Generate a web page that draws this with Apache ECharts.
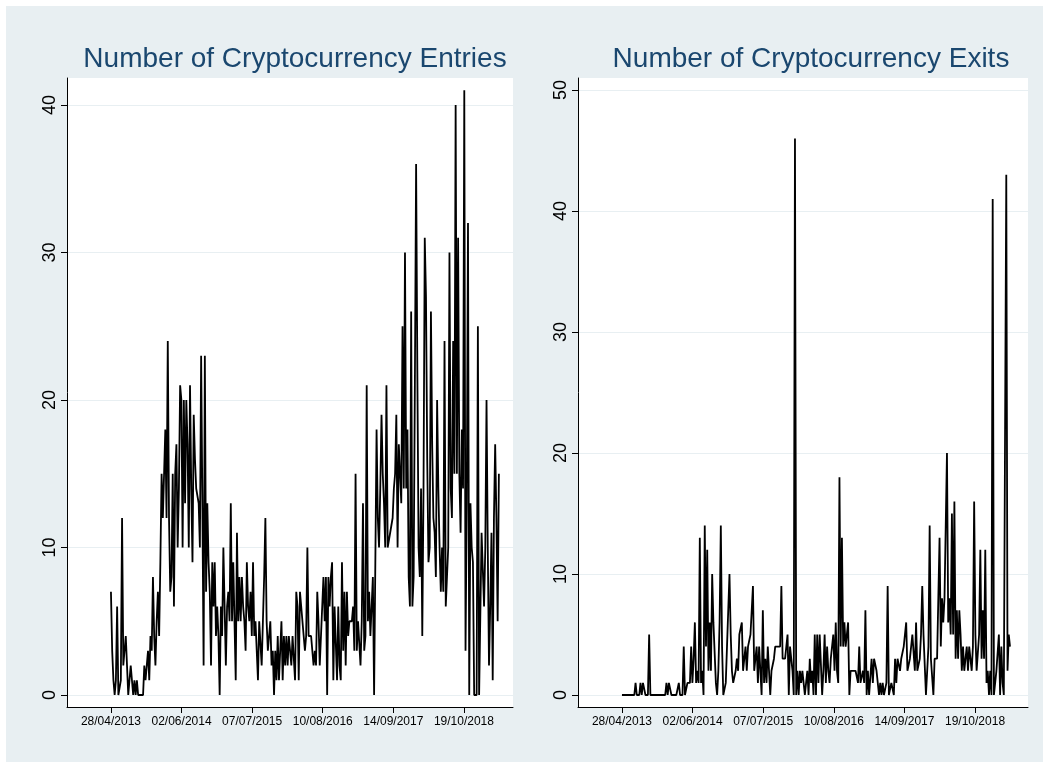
<!DOCTYPE html>
<html>
<head>
<meta charset="utf-8">
<script src="https://cdn.jsdelivr.net/npm/echarts@6/dist/echarts.min.js"></script>
<style>
  html, body { margin: 0; padding: 0; background: #ffffff; }
  #chart { width: 1049px; height: 768px; }
</style>
</head>
<body>
<div id="chart"></div>
<script>
// Weekly observations, first week starting 28/04/2013
const startDate = '2013-04-28';
const weekStep = 7; // days between observations

// Weekly number of cryptocurrency entries
const entries = [
  7,3,1,0,1,6,0,0,1,12,
  2,2,4,2,0,1,2,1,0,1,
  0,1,0,0,0,0,0,2,1,2,
  3,1,4,3,8,4,2,5,7,4,
  9,15,12,15,18,12,24,12,7,8,
  15,6,15,17,10,14,21,20,10,20,
  13,20,17,10,21,14,9,19,16,14,
  14,13,10,23,13,2,23,7,13,9,
  7,2,9,6,9,4,6,4,0,6,
  4,10,6,2,6,7,5,13,5,9,
  5,1,11,5,8,5,8,6,5,3,
  9,6,5,7,4,9,4,5,5,1,
  5,5,2,5,8,12,5,3,3,5,
  2,3,0,3,1,4,1,3,5,1,
  4,2,4,2,4,3,2,4,4,1,
  7,6,1,7,6,6,4,3,4,10,
  4,4,4,4,2,3,2,7,5,2,
  4,6,8,5,8,0,8,6,8,9,
  1,6,6,1,6,2,1,9,3,7,
  2,7,4,5,5,5,6,3,15,3,
  5,5,2,5,13,3,4,21,5,7,
  4,4,8,0,9,18,12,10,14,19,
  15,13,10,21,10,10,11,11,12,14,
  15,19,10,17,15,13,25,14,30,14,
  18,8,6,26,6,8,21,36,22,10,
  8,14,4,14,31,27,16,9,10,26,
  17,12,11,8,20,14,10,7,10,7,
  24,6,8,10,30,14,12,24,15,40,
  15,31,15,11,18,14,41,3,13,32,
  0,13,10,9,0,0,0,25,0,0,
  11,11,6,10,20,10,2,6,11,1,
  12,17,12,5,15
];

// Weekly number of cryptocurrency exits
const exits = [
  0,0,0,0,0,0,0,0,0,0,
  0,1,0,0,0,1,0,1,1,0,
  0,0,5,0,0,0,0,0,0,0,
  0,0,0,0,0,0,1,0,1,1,
  0,0,0,0,0,0,1,0,0,0,
  4,0,0,1,1,1,4,1,3,6,
  1,2,1,13,1,2,0,14,4,12,
  2,6,2,10,6,6,1,0,2,6,
  14,4,0,0,1,4,7,10,5,2,
  1,1,2,3,2,5,5,6,2,3,
  4,2,4,4,5,7,9,2,2,4,
  1,4,2,0,7,1,3,1,4,2,
  0,2,2,3,4,4,4,4,4,9,
  3,3,3,3,5,0,4,4,2,0,
  46,0,2,0,2,1,2,2,0,1,
  2,0,3,1,2,0,5,0,5,1,
  5,5,0,2,5,1,4,2,1,3,
  4,5,2,6,2,1,18,4,13,4,
  6,4,4,6,0,2,2,2,2,2,
  2,1,4,1,1,2,1,7,0,2,
  0,0,3,1,3,3,2,1,0,1,
  0,1,0,0,1,9,0,0,1,1,
  0,3,1,3,3,2,3,3,4,5,
  6,2,2,3,4,5,5,2,6,2,
  2,3,5,9,5,5,0,2,4,14,
  3,3,0,3,3,3,3,13,4,8,
  6,8,8,20,6,8,5,15,5,16,
  3,7,3,7,5,2,4,2,3,4,
  2,4,4,2,4,16,5,2,2,5,
  12,3,7,3,12,1,2,0,2,0,
  41,0,0,2,2,5,0,4,1,0,
  0,43,2,5,4
];

// Date tick labels along the time axis
const dateTicks = ['28/04/2013', '02/06/2014', '07/07/2015', '10/08/2016', '14/09/2017', '19/10/2018'];
const entriesTicks = [0, 10, 20, 30, 40];
const exitsTicks = [0, 10, 20, 30, 40, 50];

const titles = ['Number of Cryptocurrency Entries', 'Number of Cryptocurrency Exits'];

// ---- helpers: day offsets relative to the first observation ----
const DAY = 86400000;
const t0 = Date.parse(startDate + 'T00:00:00Z');
function parseDMY(s) {
  const [d, m, y] = s.split('/').map(Number);
  return Date.UTC(y, m - 1, d);
}
function fmtDMY(dayOffset) {
  const dt = new Date(t0 + Math.round(dayOffset) * DAY);
  const p = n => String(n).padStart(2, '0');
  return p(dt.getUTCDate()) + '/' + p(dt.getUTCMonth() + 1) + '/' + dt.getUTCFullYear();
}
const tickDays = dateTicks.map(s => Math.round((parseDMY(s) - t0) / DAY));
const toPairs = arr => arr.map((v, i) => [i * weekStep, v]);

const navy = '#1a476f';
const gridColor = '#e8eff2';
const bgColor = '#e8eff2';
const font = '"Liberation Sans", Arial, sans-serif';

function xAxis(gridIndex, max) {
  return {
    type: 'value', gridIndex,
    min: -249, max,
    axisLine: { show: true, onZero: false, lineStyle: { color: '#000', width: 1 } },
    axisTick: { show: true, length: 6, customValues: tickDays, lineStyle: { color: '#000' } },
    axisLabel: {
      customValues: tickDays, formatter: v => fmtDMY(v),
      color: '#000', fontSize: 12, fontFamily: font, margin: 9
    },
    splitLine: { show: false }
  };
}
function yAxis(gridIndex, min, max, ticks) {
  return {
    type: 'value', gridIndex, min, max,
    axisLine: { show: true, onZero: false, lineStyle: { color: '#000', width: 1 } },
    axisTick: { show: true, length: 6, customValues: ticks, lineStyle: { color: '#000' } },
    axisLabel: {
      customValues: ticks, rotate: 90, color: '#000', fontSize: 18, fontFamily: font, margin: 8
    },
    splitLine: { show: true, lineStyle: { color: gridColor, width: 1 } }
  };
}

const chart = echarts.init(document.getElementById('chart'), null, { renderer: 'canvas' });
chart.setOption({
  backgroundColor: '#ffffff',
  animation: false,
  graphic: [{
    type: 'rect', z: -10, silent: true,
    shape: { x: 6, y: 6, width: 1037, height: 756 },
    style: { fill: bgColor }
  }, {
    type: 'rect', z: -5, silent: true,
    shape: { x: 67, y: 78, width: 446, height: 629 },
    style: { fill: '#ffffff' }
  }, {
    type: 'rect', z: -5, silent: true,
    shape: { x: 578, y: 78, width: 450, height: 629 },
    style: { fill: '#ffffff' }
  }],
  title: [
    { text: titles[0], left: 290, textAlign: 'center', top: 40,
      textStyle: { color: navy, fontSize: 28, fontWeight: 'normal', fontFamily: font } },
    { text: titles[1], left: 806, textAlign: 'center', top: 40,
      textStyle: { color: navy, fontSize: 28, fontWeight: 'normal', fontFamily: font } }
  ],
  grid: [
    { left: 67, top: 78, width: 446, height: 629, containLabel: false },
    { left: 578, top: 78, width: 450, height: 629, containLabel: false }
  ],
  xAxis: [xAxis(0, 2278), xAxis(1, 2300)],
  yAxis: [
    yAxis(0, -12 / 14.75, (695 - 78) / 14.75, entriesTicks),
    yAxis(1, -12 / 12.1, (695 - 78) / 12.1, exitsTicks)
  ],
  series: [
    { type: 'line', xAxisIndex: 0, yAxisIndex: 0, data: toPairs(entries),
      showSymbol: false, symbol: 'none', lineStyle: { color: '#000', width: 1.8 } },
    { type: 'line', xAxisIndex: 1, yAxisIndex: 1, data: toPairs(exits),
      showSymbol: false, symbol: 'none', lineStyle: { color: '#000', width: 1.8 } }
  ]
});
</script>
</body>
</html>
